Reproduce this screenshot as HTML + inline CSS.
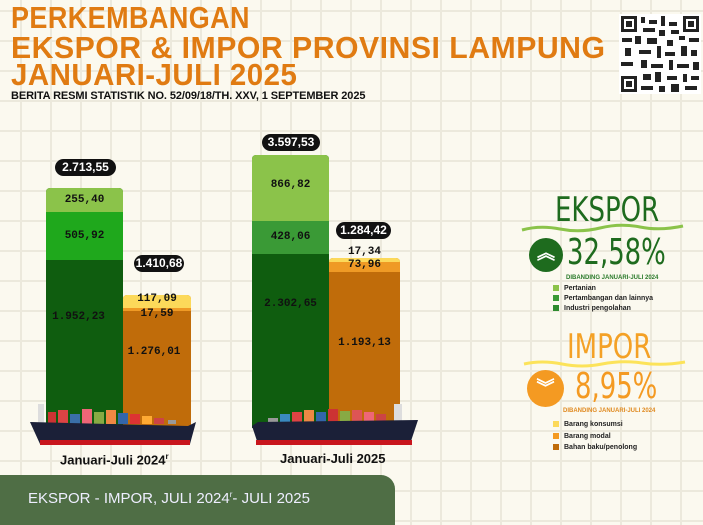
<!DOCTYPE html>
<html><head><meta charset="utf-8"><style>
*{margin:0;padding:0;box-sizing:border-box}
body{width:703px;height:519px;overflow:hidden;position:relative;font-family:"Liberation Sans",sans-serif;
background-color:#fbf9ef;
background-image:linear-gradient(#ece9dc 2px,transparent 2px),linear-gradient(90deg,#ece9dc 2px,transparent 2px);
background-size:30px 30px;background-position:-10px 10px;}
.a{position:absolute}
.t{color:#e07b12;font-weight:bold;font-size:31px;letter-spacing:0.5px;white-space:nowrap;line-height:1;transform-origin:left top}
.bar{position:absolute}
.lbl{position:absolute;width:100%;text-align:center;font-weight:bold;font-size:11px;color:#111;font-family:"Liberation Mono",monospace;letter-spacing:0px}
.badge{position:absolute;background:#111;color:#fff;border-radius:9px;font-weight:bold;font-size:12px;text-align:center;line-height:17px;height:17px;font-family:"Liberation Sans Narrow","Liberation Sans",sans-serif}
.leg{position:absolute;font-size:7px;font-weight:bold;color:#222;white-space:nowrap}
.leg i{display:inline-block;width:6px;height:6px;margin-right:5px;vertical-align:-1px}
</style></head><body>
<div class="a t" style="left:11px;top:2px;transform:scaleX(0.87)">PERKEMBANGAN</div>
<div class="a t" style="left:11px;top:32px;transform:scaleX(0.975)">EKSPOR &amp; IMPOR PROVINSI LAMPUNG</div>
<div class="a t" style="left:11px;top:59px;transform:scaleX(0.95)">JANUARI-JULI 2025</div>
<div class="a" style="left:11px;top:90px;font-size:11px;font-weight:bold;color:#111;letter-spacing:-0.1px">BERITA RESMI STATISTIK NO. 52/09/18/TH. XXV, 1 SEPTEMBER 2025</div>
<svg class="a" style="left:619px;top:14px" width="82" height="80" viewBox="0 0 82 80">
<rect width="82" height="80" fill="#fff"/>
<g fill="#222">
<rect x="2" y="2" width="16" height="16"/><rect x="64" y="2" width="16" height="16"/><rect x="2" y="62" width="16" height="16"/>
</g><g fill="#fff"><rect x="5" y="5" width="10" height="10"/><rect x="67" y="5" width="10" height="10"/><rect x="5" y="65" width="10" height="10"/></g>
<g fill="#222"><rect x="7" y="7" width="6" height="6"/><rect x="69" y="7" width="6" height="6"/><rect x="7" y="67" width="6" height="6"/>
<rect x="22" y="3" width="4" height="6"/><rect x="30" y="6" width="8" height="4"/><rect x="42" y="2" width="4" height="10"/><rect x="50" y="8" width="8" height="4"/>
<rect x="24" y="14" width="12" height="4"/><rect x="40" y="16" width="6" height="6"/><rect x="52" y="16" width="8" height="4"/>
<rect x="3" y="24" width="10" height="4"/><rect x="16" y="22" width="6" height="8"/><rect x="28" y="24" width="10" height="6"/><rect x="48" y="26" width="6" height="6"/><rect x="60" y="22" width="6" height="4"/><rect x="70" y="24" width="10" height="4"/>
<rect x="6" y="34" width="6" height="8"/><rect x="20" y="36" width="12" height="4"/><rect x="38" y="32" width="4" height="12"/><rect x="46" y="38" width="10" height="4"/><rect x="62" y="32" width="6" height="10"/><rect x="72" y="36" width="6" height="6"/>
<rect x="2" y="48" width="12" height="4"/><rect x="22" y="46" width="6" height="8"/><rect x="32" y="50" width="12" height="4"/><rect x="50" y="46" width="4" height="10"/><rect x="58" y="50" width="12" height="4"/><rect x="74" y="48" width="6" height="8"/>
<rect x="24" y="60" width="8" height="6"/><rect x="36" y="58" width="6" height="10"/><rect x="48" y="62" width="10" height="4"/><rect x="64" y="60" width="4" height="8"/><rect x="72" y="62" width="8" height="4"/>
<rect x="22" y="72" width="12" height="4"/><rect x="40" y="72" width="6" height="6"/><rect x="52" y="70" width="8" height="8"/><rect x="66" y="72" width="12" height="4"/>
</g></svg>

<!-- Bar group 1 -->
<div class="bar" style="left:46px;top:188px;width:77px;height:240px;background:#0f5d0f;border-radius:4px 4px 0 0;overflow:hidden">
<div style="height:24px;background:#8bc34a"></div><div style="height:48px;background:#1fa81c"></div></div>
<div class="lbl" style="left:46px;width:77px;top:194px">255,40</div>
<div class="lbl" style="left:46px;width:77px;top:230px">505,92</div>
<div class="lbl" style="left:40px;width:77px;top:311px">1.952,23</div>
<div class="badge" style="left:55px;top:159px;width:61px">2.713,55</div>

<div class="bar" style="left:123px;top:295px;width:68px;height:133px;background:#c06c0a;border-radius:4px 4px 0 0;overflow:hidden">
<div style="height:13px;background:#fcd95a"></div><div style="height:3px;background:#ef9a25"></div></div>
<div class="lbl" style="left:123px;width:68px;top:293px">117,09</div>
<div class="lbl" style="left:123px;width:68px;top:308px">17,59</div>
<div class="lbl" style="left:120px;width:68px;top:346px">1.276,01</div>
<div class="badge" style="left:134px;top:255px;width:50px">1.410,68</div>

<!-- Bar group 2 -->
<div class="bar" style="left:252px;top:155px;width:77px;height:273px;background:#0f5d0f;border-radius:4px 4px 0 0;overflow:hidden">
<div style="height:66px;background:#8bc34a"></div><div style="height:33px;background:#3a9a36"></div></div>
<div class="lbl" style="left:252px;width:77px;top:179px">866,82</div>
<div class="lbl" style="left:252px;width:77px;top:231px">428,06</div>
<div class="lbl" style="left:252px;width:77px;top:298px">2.302,65</div>
<div class="badge" style="left:262px;top:134px;width:58px">3.597,53</div>

<div class="bar" style="left:329px;top:258px;width:71px;height:170px;background:#c06c0a;border-radius:4px 4px 0 0;overflow:hidden">
<div style="height:4px;background:#fcd95a"></div><div style="height:10px;background:#ef9a25"></div></div>
<div class="lbl" style="left:329px;width:71px;top:246px">17,34</div>
<div class="lbl" style="left:329px;width:71px;top:259px">73,96</div>
<div class="lbl" style="left:329px;width:71px;top:337px">1.193,13</div>
<div class="badge" style="left:336px;top:222px;width:55px">1.284,42</div>

<!-- ships -->
<svg class="a" style="left:28px;top:400px" width="170" height="50" viewBox="0 0 170 50">
<g>
<rect x="20" y="12" width="8" height="12" fill="#c33"/><rect x="30" y="10" width="10" height="14" fill="#d44"/><rect x="42" y="14" width="10" height="10" fill="#3a6fa8"/><rect x="54" y="9" width="10" height="15" fill="#e67"/><rect x="66" y="12" width="10" height="12" fill="#8a4"/><rect x="78" y="10" width="10" height="14" fill="#e84"/><rect x="90" y="13" width="10" height="11" fill="#36a"/><rect x="102" y="14" width="10" height="10" fill="#d33"/><rect x="114" y="16" width="10" height="8" fill="#fa3"/><rect x="126" y="18" width="10" height="6" fill="#c44"/><rect x="140" y="20" width="8" height="4" fill="#999"/>
<rect x="10" y="4" width="6" height="20" fill="#ddd"/>
</g>
<path d="M2 22 L160 26 L168 22 L162 44 L12 44 Z" fill="#1b2038"/>
<rect x="12" y="40" width="150" height="5" fill="#c8161d"/>
</svg>
<svg class="a" style="left:248px;top:400px" width="172" height="50" viewBox="0 0 172 50">
<g>
<rect x="20" y="18" width="10" height="6" fill="#999"/><rect x="32" y="14" width="10" height="10" fill="#3a8ac0"/><rect x="44" y="12" width="10" height="12" fill="#d44"/><rect x="56" y="10" width="10" height="14" fill="#e84"/><rect x="68" y="12" width="10" height="12" fill="#36a"/><rect x="80" y="9" width="10" height="15" fill="#c33"/><rect x="92" y="11" width="10" height="13" fill="#8a4"/><rect x="104" y="10" width="10" height="14" fill="#d55"/><rect x="116" y="12" width="10" height="12" fill="#e67"/><rect x="128" y="14" width="10" height="10" fill="#c44"/>
<rect x="146" y="4" width="8" height="20" fill="#ddd"/>
</g>
<path d="M4 26 L10 22 L170 20 L162 44 L10 44 Z" fill="#1b2038"/>
<rect x="8" y="40" width="156" height="5" fill="#c8161d"/>
</svg>

<div class="a" style="left:60px;top:452px;font-size:13px;font-weight:bold;color:#111">Januari-Juli 2024<sup style="font-size:8px">r</sup></div>
<div class="a" style="left:280px;top:451px;font-size:13px;font-weight:bold;color:#111">Januari-Juli 2025</div>

<div class="a" style="left:0;top:475px;width:395px;height:50px;background:#4f6e45;border-radius:0 14px 0 0"></div>
<div class="a" style="left:28px;top:490px;font-size:15px;color:#eef;white-space:nowrap">EKSPOR - IMPOR, JULI 2024<sup style="font-size:8px">r</sup>- JULI 2025</div>

<!-- right panel -->
<div class="a" style="left:555px;top:190px;font-size:34px;color:#1e6b1e;font-family:'DejaVu Sans Condensed','Liberation Sans Narrow',sans-serif;transform:scaleX(0.85);transform-origin:left">EKSPOR</div>
<svg class="a" style="left:520px;top:222px" width="165" height="12"><path d="M2 8 Q20 3 40 7 T80 6 T120 5 T163 4" stroke="#8bc34a" stroke-width="3" fill="none"/></svg>
<div class="a" style="left:529px;top:238px;width:34px;height:34px;border-radius:50%;background:#1e6b1e;color:#fff;text-align:center;font-weight:bold;font-size:18px;line-height:30px">︽</div>
<div class="a" style="left:567px;top:232px;font-size:36px;color:#1e6b1e;font-family:'DejaVu Sans Condensed',sans-serif;transform:scaleX(0.8);transform-origin:left">32,58%</div>
<div class="a" style="left:566px;top:275px;font-size:6px;color:#2a7a2a;font-weight:bold">DIBANDING JANUARI-JULI 2024</div>
<div class="leg" style="left:553px;top:285px"><i style="background:#8bc34a"></i>Pertanian</div>
<div class="leg" style="left:553px;top:295px"><i style="background:#3a9a36"></i>Pertambangan dan lainnya</div>
<div class="leg" style="left:553px;top:305px"><i style="background:#2e8b2e"></i>Industri pengolahan</div>

<div class="a" style="left:567px;top:327px;font-size:34px;color:#f4a126;font-family:'DejaVu Sans Condensed',sans-serif;transform:scaleX(0.85);transform-origin:left">IMPOR</div>
<svg class="a" style="left:522px;top:358px" width="165" height="12"><path d="M2 6 Q20 2 40 6 T80 6 T120 5 T163 4" stroke="#fce35a" stroke-width="3" fill="none"/></svg>
<div class="a" style="left:527px;top:370px;width:37px;height:37px;border-radius:50%;background:#f49a22;color:#fff;text-align:center;font-weight:bold;font-size:18px;line-height:36px">︾</div>
<div class="a" style="left:575px;top:366px;font-size:36px;color:#f49a22;font-family:'DejaVu Sans Condensed',sans-serif;transform:scaleX(0.8);transform-origin:left">8,95%</div>
<div class="a" style="left:563px;top:408px;font-size:6px;color:#e08a20;font-weight:bold">DIBANDING JANUARI-JULI 2024</div>
<div class="leg" style="left:553px;top:421px"><i style="background:#fcd95a"></i>Barang konsumsi</div>
<div class="leg" style="left:553px;top:433px"><i style="background:#f49a22"></i>Barang modal</div>
<div class="leg" style="left:553px;top:444px"><i style="background:#c06c0a"></i>Bahan baku/penolong</div>
</body></html>
